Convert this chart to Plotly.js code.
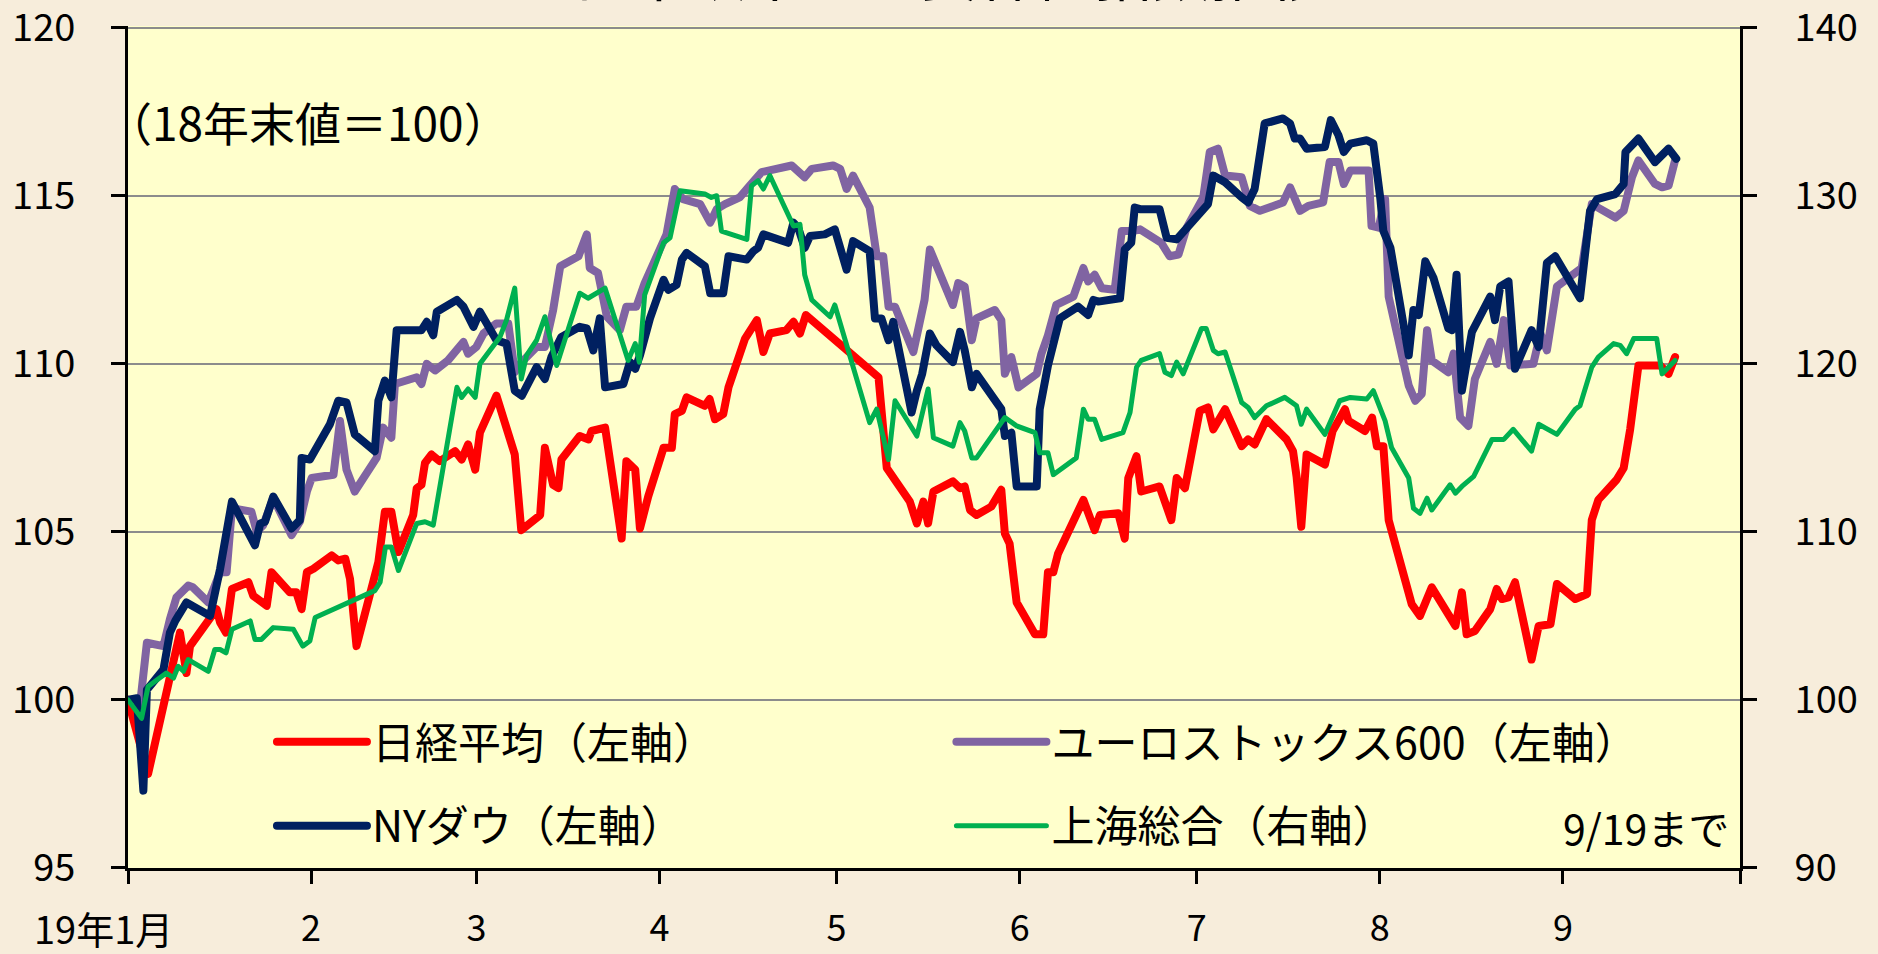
<!DOCTYPE html>
<html>
<head>
<meta charset="utf-8">
<script src="https://cdn.plot.ly/plotly-3.0.1.min.js"></script>
<style>
  html, body { margin: 0; padding: 0; background: #f7eddb; }
  #chart { width: 1878px; height: 954px; }
  #chart path.js-line { stroke-linejoin: round !important; stroke-linecap: round !important; }
</style>
</head>
<body>
<div id="chart"></div>
<script>
// x = days since 2019-01-01 (0 = 18年末値)
const monthTicks = [0, 31, 59, 90, 120, 151, 181, 212, 243, 273];
const monthLabels = ['', '2', '3', '4', '5', '6', '7', '8', '9', ''];
const leftTicks = [95, 100, 105, 110, 115, 120];
const rightTicks = [90, 100, 110, 120, 130, 140];

// 日経平均（左軸）
const nikkeiDays = [0,3.4,8.8,9.9,10.5,13.5,15.0,15.6,16.6,17.6,20.4,21.2,23.5,24.3,27.4,28.5,29.4,30.3,31.4,34.5,35.6,36.8,37.6,38.7,41.5,42.4,43.5,44.6,45.8,48.3,48.9,49.7,50.3,51.4,52.8,53.7,55.4,56.5,57.6,58.8,59.6,62.4,65.5,66.6,69.8,70.6,72.0,72.9,73.4,76.5,78.0,78.5,80.8,83.6,84.4,85.9,86.7,88.1,90.7,92.1,92.6,93.8,94.6,97.7,98.5,99.4,100.8,101.7,104.5,106.5,107.6,108.7,111.5,112.7,113.8,114.8,127.1,128.5,132.4,133.6,134.7,135.5,136.4,139.7,140.9,141.7,142.6,143.7,146.2,147.9,148.5,149.3,150.5,153.6,155.0,155.8,156.7,157.5,161.8,163.7,164.6,167.7,168.8,169.4,170.8,171.6,174.7,176.7,177.6,179.0,181.5,182.9,183.8,185.8,188.6,189.7,190.8,192.8,196.2,197.3,197.9,198.7,199.6,202.7,204.0,206.1,206.7,209.5,210.7,211.5,212.6,213.5,217.4,218.8,220.8,224.8,225.9,226.7,228.1,230.7,231.8,232.7,233.8,234.9,237.7,238.9,240.9,242.0,245.1,247.1,247.9,249.0,252.1,253.3,254.4,255.8,259.5,260.9,262.0];
const nikkeiVals = [100,97.8,102.0,100.8,101.6,102.4,102.7,102.3,102.0,103.3,103.5,103.1,102.8,103.8,103.2,103.2,102.7,103.8,103.9,104.3,104.15,104.2,103.6,101.6,103.4,104.1,105.6,105.6,104.4,105.5,106.3,106.4,107.05,107.3,107.1,107.2,107.4,107.15,107.6,106.85,107.95,109.05,107.3,105.05,105.5,107.5,106.4,106.3,107.15,107.85,107.75,108.0,108.1,104.8,107.1,106.85,105.1,106.05,107.5,107.5,108.5,108.6,109.0,108.75,108.95,108.35,108.5,109.3,110.75,111.3,110.35,110.9,111.0,111.25,110.9,111.45,109.6,106.9,105.9,105.25,105.9,105.25,106.2,106.5,106.3,106.35,105.65,105.5,105.75,106.25,104.95,104.65,102.9,101.95,101.95,103.8,103.8,104.35,105.95,105.05,105.5,105.55,104.8,106.6,107.25,106.2,106.35,105.35,106.6,106.3,108.6,108.7,108.05,108.65,107.55,107.75,107.6,108.35,107.75,107.4,106.65,105.15,107.3,107.0,108.0,108.65,108.3,108.0,108.4,107.55,107.55,105.35,102.85,102.5,103.35,102.2,103.2,101.95,102.05,102.7,103.3,103.0,103.05,103.5,101.2,102.2,102.25,103.45,103.0,103.15,105.35,105.95,106.55,106.9,108.05,109.95,109.95,109.7,110.2];

// NYダウ（左軸）
const dowDays = [0,1.5,2.6,3.2,6.0,7.1,8.0,9.9,13.9,15.6,17.6,21.5,22.4,23.2,24.6,27.7,29.1,29.4,30.8,34.2,35.6,37.0,38.4,41.8,42.4,43.5,44.6,45.5,49.7,50.6,51.7,52.3,55.7,56.8,58.5,59.6,62.4,64.1,65.5,66.7,69.2,70.6,71.7,73.4,76.5,77.7,78.8,79.9,80.8,83.9,85.0,85.9,86.7,88.4,90.7,91.5,92.9,93.8,94.6,97.7,98.6,100.8,101.7,104.8,105.9,106.7,107.6,111.8,112.7,113.5,114.6,115.5,118.0,119.7,121.7,122.8,125.6,126.5,127.6,128.8,129.6,132.7,133.6,134.5,135.8,136.9,139.7,140.9,141.7,142.9,143.7,147.9,148.5,149.6,150.5,153.9,154.4,155.8,157.8,160.9,162.6,163.5,164.3,168.0,168.8,169.9,170.5,171.4,174.7,175.9,177.6,179.3,182.1,182.9,183.8,185.8,188.6,189.7,190.8,192.5,195.6,196.8,197.6,198.5,199.6,202.7,203.7,205.0,205.9,207.0,209.8,210.9,212.1,212.6,213.8,216.9,217.7,218.6,219.7,221.1,223.6,224.2,225.0,225.9,227.6,230.7,231.5,232.4,233.8,234.9,237.7,238.9,240.3,241.7,245.9,247.6,248.8,251.9,253.3,253.6,255.8,258.6,260.9,262.2];
const dowVals = [100,100.05,97.3,100.3,100.9,102.0,102.35,102.9,102.5,103.9,105.9,104.6,105.25,105.3,106.05,105.1,105.35,107.2,107.15,108.2,108.9,108.85,107.9,107.4,108.9,109.5,109.0,111.0,111.0,111.25,110.85,111.55,111.9,111.7,111.1,111.55,110.7,110.6,109.2,109.05,109.9,109.55,110.2,110.8,111.1,111.05,110.4,111.35,109.3,109.4,110.05,109.85,110.25,111.35,112.5,112.2,112.35,113.1,113.3,112.9,112.1,112.1,113.2,113.1,113.35,113.45,113.85,113.6,114.2,114.05,113.45,113.8,113.85,114.0,112.8,113.65,113.35,111.35,111.35,110.7,111.25,108.55,109.2,109.7,110.9,110.55,110.05,110.95,110.4,109.3,109.7,108.65,107.85,107.95,106.35,106.35,108.65,109.95,111.35,111.7,111.45,111.9,111.85,111.95,113.4,113.6,114.65,114.6,114.6,113.75,113.7,114.05,114.55,114.75,115.6,115.4,114.95,114.8,115.2,117.15,117.3,117.15,116.7,116.7,116.4,116.45,117.25,116.8,116.3,116.55,116.65,116.55,114.9,113.95,113.45,110.25,111.6,111.45,113.05,112.55,111.05,111.0,112.65,109.2,110.95,112.0,111.3,112.3,112.45,109.85,111.0,110.5,113.0,113.2,111.95,114.55,114.9,115.05,115.35,116.3,116.7,116.0,116.4,116.1];

// ユーロストックス600（左軸）
const euroDays = [0,2.0,3.2,6.0,7.1,8.2,10.2,11.0,13.6,15.6,16.7,17.6,20.9,21.8,22.9,24.6,27.7,29.1,30.3,31.1,34.8,35.9,37.0,38.4,42.1,43.2,44.6,45.2,48.9,49.7,50.6,52.0,54.2,55.7,56.8,57.6,59.0,60.2,62.4,64.4,65.5,66.4,69.2,70.6,72.0,73.2,76.3,77.7,78.2,79.6,81.1,83.3,84.4,86.1,87.5,91.2,92.6,94.0,96.9,98.6,99.7,101.1,103.6,105.3,107.3,112.4,114.6,115.8,119.4,120.6,121.7,122.8,125.6,126.8,127.9,128.8,129.9,133.0,134.1,134.9,135.8,139.7,140.6,141.7,142.9,143.7,146.8,147.9,148.5,149.6,150.8,153.9,154.7,155.8,157.2,160.1,161.8,162.6,163.7,164.9,167.1,168.3,170.2,171.4,175.0,176.4,177.9,179.3,182.1,183.2,184.6,185.8,188.6,190.0,191.7,195.6,196.8,198.5,199.9,202.4,203.5,205.0,205.9,207.0,210.1,210.6,211.8,212.9,213.5,215.4,216.9,218.0,219.1,220.0,220.8,223.6,224.5,225.6,227.0,228.1,230.7,231.8,233.0,234.1,235.8,238.0,239.2,240.3,242.0,245.1,246.2,247.9,251.9,253.3,254.7,255.8,258.6,259.8,260.9,262.0];
const euroVals = [100,99.8,101.7,101.6,102.4,103.05,103.4,103.35,102.9,103.8,103.8,105.7,105.6,105.0,105.2,106.0,104.9,105.3,106.2,106.6,106.7,108.3,106.85,106.2,107.2,108.1,107.8,109.4,109.6,109.4,110.0,109.8,110.1,110.4,110.65,110.3,110.5,110.9,111.2,111.2,109.75,110.0,110.5,110.5,111.6,112.9,113.2,113.85,112.85,112.7,111.4,111.0,111.7,111.7,112.4,113.85,115.2,114.9,114.75,114.2,114.6,114.75,114.95,115.3,115.7,115.9,115.55,115.8,115.9,115.8,115.2,115.6,114.65,113.2,113.2,111.7,111.7,110.35,111.4,111.9,113.4,111.75,112.4,112.3,110.7,111.35,111.6,111.3,109.7,110.2,109.3,109.7,110.3,110.85,111.75,112.0,112.85,112.45,112.65,112.25,112.2,113.95,113.95,114.0,113.6,113.2,113.25,114.05,114.95,116.3,116.4,115.6,115.55,114.7,114.55,114.8,115.25,114.55,114.7,114.8,116.0,116.0,115.35,115.75,115.75,114.1,114.05,114.9,112.0,110.4,109.35,108.9,109.1,111.0,110.1,109.75,110.3,108.4,108.15,109.55,110.65,110.0,111.3,109.95,109.95,110.0,110.9,110.4,112.3,112.75,112.85,114.75,114.35,114.55,115.55,116.05,115.35,115.25,115.3,116.05];

// 上海総合（右軸）
const shanghaiDays = [0,2.3,3.4,6.5,7.7,8.5,9.4,10.2,13.6,14.7,15.6,16.6,17.6,20.7,21.5,22.6,24.6,28.0,29.6,30.8,31.7,41.8,42.7,43.6,44.6,45.8,48.9,50.3,51.7,55.7,56.5,57.6,58.8,59.6,63.0,64.1,65.5,66.6,67.5,69.2,70.6,72.6,76.5,77.9,80.8,84.7,85.9,86.6,87.5,90.7,91.8,93.5,97.7,98.8,99.7,100.5,104.8,105.6,106.7,107.6,108.7,112.7,113.8,114.6,115.8,118.9,119.7,125.6,126.8,128.8,129.9,133.6,135.5,136.4,139.7,140.9,141.7,142.9,143.7,148.5,150.5,153.6,154.4,155.8,156.7,160.6,161.8,162.6,163.7,164.9,168.5,169.7,170.8,171.6,174.7,175.6,176.7,177.6,178.7,181.8,182.6,183.8,184.6,185.8,188.6,189.7,190.8,192.8,195.9,197.9,198.7,199.6,202.7,203.5,205.2,207.0,209.8,210.9,212.9,214.0,216.9,217.7,218.8,220.0,220.8,223.9,224.8,225.9,227.9,231.0,233.0,234.6,237.7,238.9,242.0,245.1,245.9,247.9,249.0,251.6,252.7,253.8,255.0,258.9,259.8,260.9,262.0];
const shanghaiVals = [100,98.9,100.8,101.6,101.3,102.0,101.7,102.4,101.7,103.0,103.0,102.8,104.2,104.7,103.6,103.6,104.3,104.2,103.2,103.5,104.9,106.5,107.0,109.1,109.1,107.7,110.5,110.6,110.4,118.6,118.0,118.5,118.0,120.0,121.6,122.6,124.5,119.1,120.5,121.4,122.8,119.9,124.2,123.9,124.5,120.2,121.2,120.1,124.1,127.2,127.5,130.3,130.1,129.9,130.0,127.9,127.4,130.6,130.9,130.4,131.2,128.2,128.3,125.3,123.8,122.8,123.5,116.5,117.3,114.3,117.8,115.7,118.5,115.6,115.1,116.5,116.0,114.4,114.4,116.8,116.3,115.9,114.7,114.7,113.4,114.4,117.3,116.7,116.7,115.5,115.9,117.1,119.8,120.2,120.6,119.5,119.3,120.1,119.4,122.1,122.1,120.8,120.6,120.7,117.7,117.4,116.8,117.5,118.0,117.5,116.4,117.3,115.8,116.4,117.8,118.0,117.9,118.4,116.6,115.0,113.2,111.4,111.1,112.0,111.3,112.8,112.3,112.7,113.3,115.5,115.5,116.1,114.8,116.4,115.8,117.3,117.5,119.8,120.4,121.2,121.1,120.6,121.5,121.5,119.4,119.8,120.2];

const FONT = '"Noto Sans CJK JP", "Noto Sans", sans-serif';

const traces = [
  { x: euroDays, y: euroVals, name: 'ユーロストックス600（左軸）', type: 'scatter', mode: 'lines',
    line: { color: '#8064a2', width: 8 }, legend: 'legend2', legendgroup: 'g2', legendrank: 1 },
  { x: nikkeiDays, y: nikkeiVals, name: '日経平均（左軸）', type: 'scatter', mode: 'lines',
    line: { color: '#ff0000', width: 8 }, legend: 'legend', legendgroup: 'g1', legendrank: 1 },
  { x: dowDays, y: dowVals, name: 'NYダウ（左軸）', type: 'scatter', mode: 'lines',
    line: { color: '#002060', width: 8 }, legend: 'legend', legendgroup: 'g3', legendrank: 2 },
  { x: shanghaiDays, y: shanghaiVals, name: '上海総合（右軸）', type: 'scatter', mode: 'lines', yaxis: 'y2',
    line: { color: '#00b050', width: 5 }, legend: 'legend2', legendgroup: 'g4', legendrank: 2 }
];

const legendCommon = {
  orientation: 'v', xanchor: 'left', yanchor: 'middle', y: 0.1,
  bgcolor: 'rgba(0,0,0,0)', borderwidth: 0,
  font: { family: FONT, size: 43, color: '#000' },
  traceorder: 'grouped', tracegroupgap: 25, itemwidth: 90
};

const layout = {
  width: 1878, height: 954,
  paper_bgcolor: '#f7eddb',
  plot_bgcolor: '#ffffcc',
  margin: { l: 128, r: 138, t: 26, b: 86 },
  font: { family: FONT, size: 38, color: '#000' },
  title: {
    text: '日米欧中の主要株価指数推移',
    font: { family: FONT, size: 58, color: '#000' },
    xref: 'container', x: 0.5053, xanchor: 'center',
    yref: 'container', y: 1, yanchor: 'bottom',
    pad: { b: 4 }
  },
  showlegend: true,
  legend: Object.assign({}, legendCommon, { x: 0.0893 }),
  legend2: Object.assign({}, legendCommon, { x: 0.5108 }),
  xaxis: {
    type: 'linear', range: [0, 273],
    tickmode: 'array', tickvals: monthTicks, ticktext: monthLabels,
    ticks: 'outside', ticklen: 13, tickwidth: 3, tickcolor: '#000',
    showline: true, linewidth: 3, linecolor: '#000',
    showgrid: false, zeroline: false,
    tickfont: { family: FONT, size: 36, color: '#000' },
    ticklabelstandoff: 14, ticklabeloverflow: 'allow'
  },
  yaxis: {
    range: [94.998, 120.05],
    tickmode: 'array', tickvals: leftTicks,
    ticks: 'outside', ticklen: 14, tickwidth: 3, tickcolor: '#000',
    showline: true, linewidth: 3, linecolor: '#000',
    showgrid: true, gridcolor: '#8c8c8c', gridwidth: 2,
    zeroline: false,
    tickfont: { family: FONT, size: 38, color: '#000' },
    ticklabelstandoff: 28, ticklabeloverflow: 'allow'
  },
  yaxis2: {
    overlaying: 'y', side: 'right',
    range: [89.996, 140.1],
    tickmode: 'array', tickvals: rightTicks,
    ticks: 'outside', ticklen: 14, tickwidth: 3, tickcolor: '#000',
    showline: true, linewidth: 3, linecolor: '#000',
    showgrid: false, zeroline: false,
    tickfont: { family: FONT, size: 38, color: '#000' },
    ticklabelstandoff: 30, ticklabeloverflow: 'allow'
  },
  annotations: [
    { text: '（18年末値＝100）', xref: 'paper', yref: 'paper', x: -0.0149, y: 0.887,
      xanchor: 'left', yanchor: 'middle', showarrow: false,
      font: { family: FONT, size: 46, color: '#000' } },
    { text: '9/19まで', xref: 'paper', yref: 'paper', x: 0.9944, y: 0.0487,
      xanchor: 'right', yanchor: 'middle', showarrow: false,
      font: { family: FONT, size: 41, color: '#000' } },
    { text: '19年1月', xref: 'paper', yref: 'paper', x: -0.0149, y: -0.0712,
      xanchor: 'center', yanchor: 'middle', showarrow: false,
      font: { family: FONT, size: 38, color: '#000' } }
  ]
};

Plotly.newPlot('chart', traces, layout, { displayModeBar: false, staticPlot: true });
</script>
</body>
</html>
